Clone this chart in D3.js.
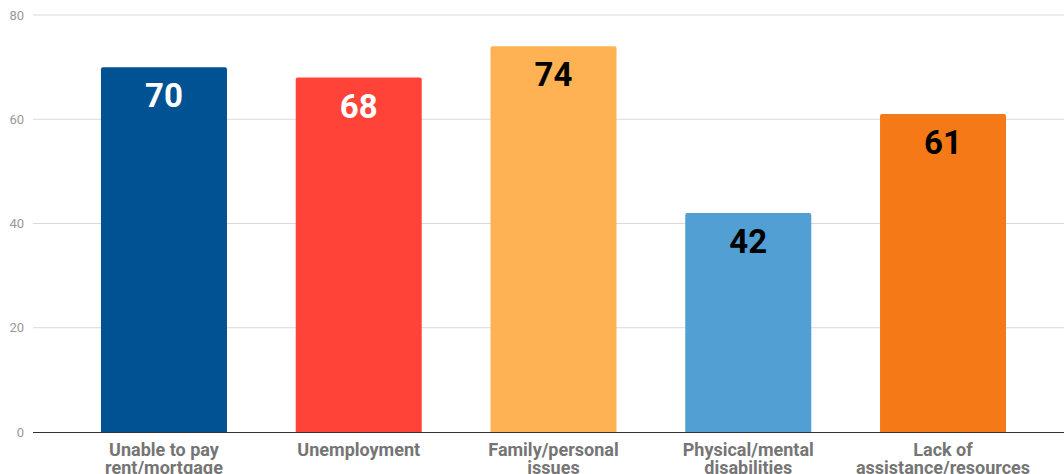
<!DOCTYPE html>
<html><head><meta charset="utf-8">
<script src="https://cdn.jsdelivr.net/npm/d3@7"></script>
<style>body{margin:0;background:#fff;} svg{display:block;font-family:Roboto,sans-serif;}</style>
</head><body>
<svg id="chart" width="1064" height="474"></svg>
<script>
const categories = [["Unable to pay","rent/mortgage"],["Unemployment"],["Family/personal","issues"],["Physical/mental","disabilities"],["Lack of","assistance/resources"]];
const values = [70, 68, 74, 42, 61];
const colors = ["#005293", "#FF4338", "#FFB253", "#519FD3", "#F57A17"];
const labelColors = ["#ffffff", "#ffffff", "#000000", "#000000", "#000000"];
const yTicks = [0, 20, 40, 60, 80];

const svg = d3.select("#chart");
const x = d3.scaleBand().domain(d3.range(values.length)).range([33, 1074]).paddingInner(0.353).paddingOuter(0.349);
const y = d3.scaleLinear().domain([0, 80]).range([432, 15]);

// gridlines
svg.append("g").selectAll("line").data(yTicks.filter(d => d > 0)).join("line")
  .attr("x1", 33).attr("x2", 1064).attr("y1", d => y(d)).attr("y2", d => y(d))
  .attr("stroke", "#d9d9d9").attr("stroke-width", 1);

// y labels
svg.append("g").selectAll("text").data(yTicks).join("text")
  .attr("x", 24).attr("y", d => y(d) + 4.5).attr("text-anchor", "end")
  .attr("fill", "#999").attr("font-size", 13).text(d => d);

// bars
svg.append("g").selectAll("path").data(values).join("path")
  .attr("d", (d, i) => {
    const x0 = x(i), w = x.bandwidth(), y0 = y(d), y1 = y(0), r = 2;
    return `M${x0},${y1}V${y0 + r}Q${x0},${y0} ${x0 + r},${y0}H${x0 + w - r}Q${x0 + w},${y0} ${x0 + w},${y0 + r}V${y1}Z`;
  })
  .attr("fill", (d, i) => colors[i]);

// baseline
svg.append("line").attr("x1", 33).attr("x2", 1064).attr("y1", y(0) + 0.5).attr("y2", y(0) + 0.5)
  .attr("stroke", "#333").attr("stroke-width", 1);

// value labels
svg.append("g").selectAll("text").data(values).join("text")
  .attr("x", (d, i) => x(i) + x.bandwidth() / 2).attr("y", d => y(d) + 40)
  .attr("text-anchor", "middle").attr("font-size", 33).attr("font-weight", "bold")
  .attr("fill", (d, i) => labelColors[i]).text(d => d);

// category labels
const cl = svg.append("g").selectAll("text").data(categories).join("text")
  .attr("x", (d, i) => x(i) + x.bandwidth() / 2).attr("y", 456)
  .attr("text-anchor", "middle").attr("font-size", 18).attr("font-weight", "bold").attr("fill", "#757575");
cl.selectAll("tspan").data(d => d).join("tspan")
  .attr("x", function() { return d3.select(this.parentNode).attr("x"); })
  .attr("dy", (d, j) => j === 0 ? 0 : 18).text(d => d);
</script>
</body></html>
